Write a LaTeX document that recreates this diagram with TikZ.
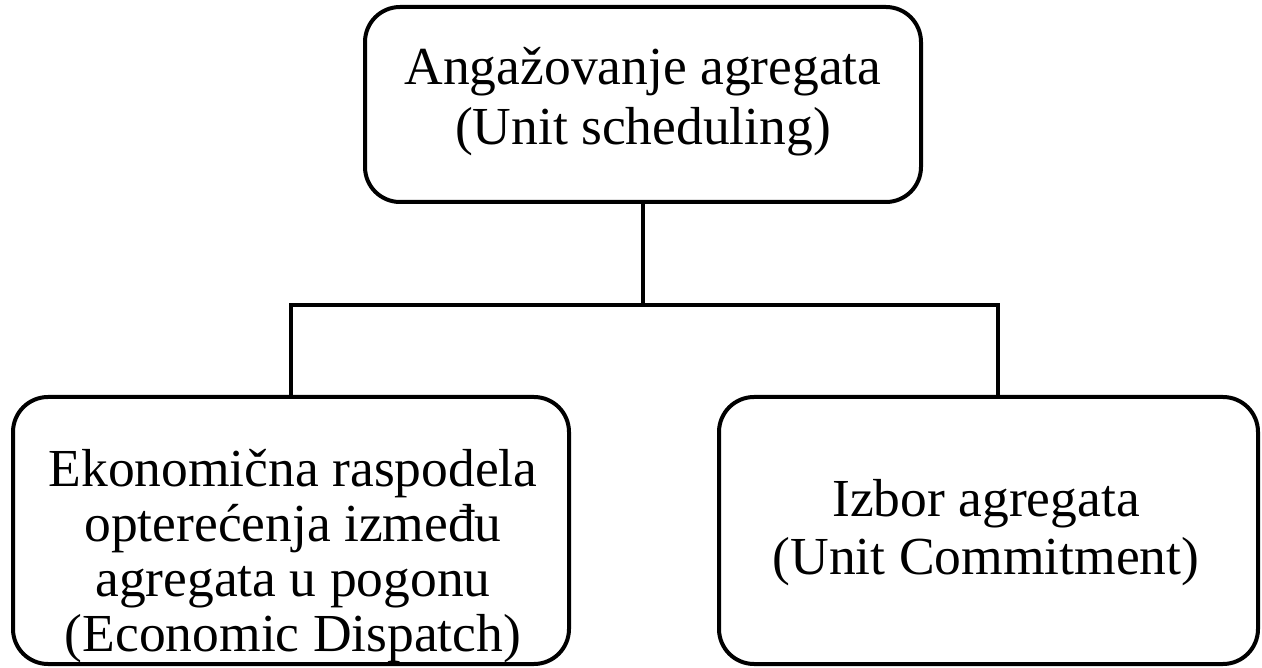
\documentclass[tikz,border=0pt]{standalone}
\usepackage{fontspec}
\setmainfont{Liberation Serif}
\begin{document}
\begin{tikzpicture}[x=1pt,y=-1pt,
  box/.style={draw=black, line width=4pt, rounded corners=35pt, inner sep=0pt},
  txt/.style={align=center, inner sep=0pt, font=\fontsize{53.5}{58}\selectfont},
  conn/.style={draw=black, line width=4pt}]
\fill[white] (0,0) rectangle (1262,668);
\useasboundingbox (0,0) rectangle (1262,668);
\node[box, minimum width=556pt, minimum height=195pt] (top) at (643,104.5) {};
\node[txt, font=\fontsize{53.5}{60}\selectfont] (toptext) at (643,102)
  {Angažovanje agregata\\(Unit scheduling)};
\node[box, minimum width=556pt, minimum height=267pt] (left) at (291,530.5) {};
\node[txt, font=\fontsize{53.5}{55}\selectfont] (lefttext) at (293,556)
  {Ekonomična raspodela\\opterećenja između\\agregata u pogonu\\(Economic Dispatch)};
\node[box, minimum width=539pt, minimum height=267pt] (right) at (988.5,530.5) {};
\node[txt] (righttext) at (986,533)
  {Izbor agregata\\(Unit Commitment)};
\coordinate (jL) at (291,305);
\coordinate (jR) at (998,305);
\draw[conn] (top.south) -- (top.south |- jL);
\draw[conn] (left.north -| jL) -- (jL) -- (jR) -- (jR |- right.north);
\end{tikzpicture}
\end{document}
